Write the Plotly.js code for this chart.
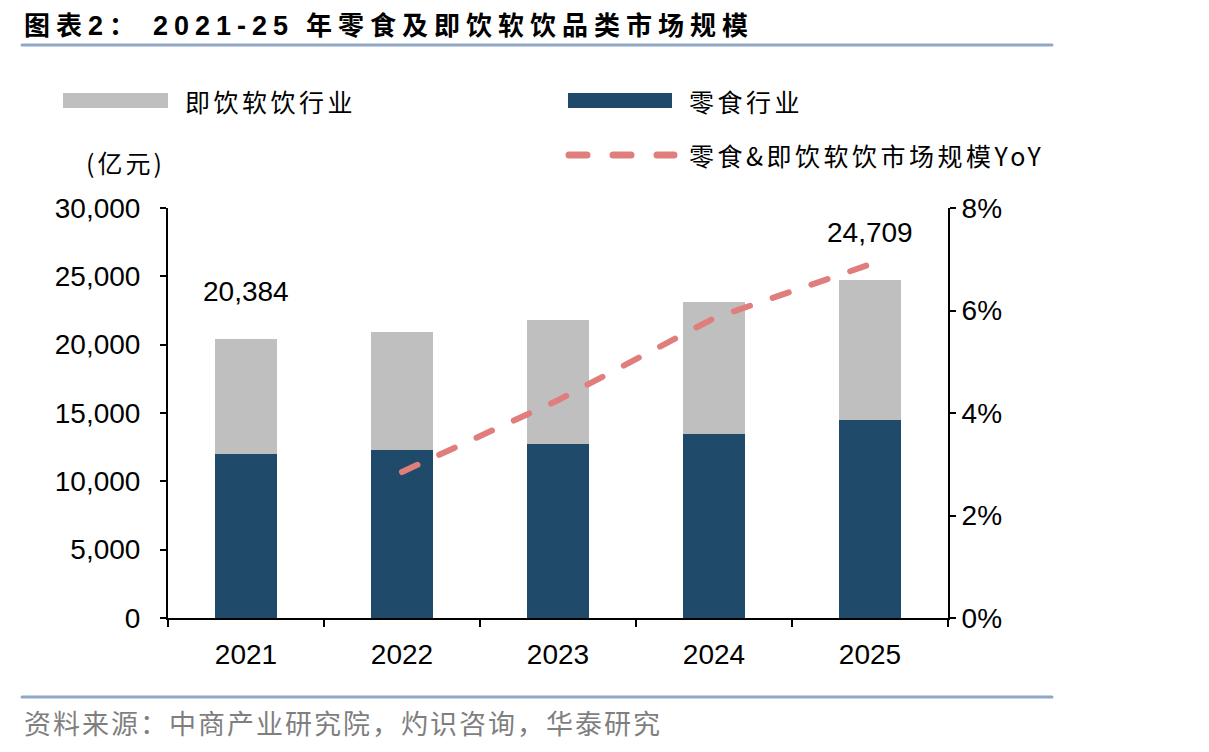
<!DOCTYPE html>
<html>
<head>
<meta charset="utf-8">
<script src="https://cdn.plot.ly/plotly-3.0.1.min.js"></script>
<style>
  html, body { margin: 0; padding: 0; background: #fff; }
  #chart { width: 1209px; height: 752px; }
  .scatterlayer .js-line { stroke-linecap: round; }
  .layer-above path { stroke-linecap: round; }
  /* tracking for the heading, legend labels, unit and source note */
  .annotation[data-index="0"] text { letter-spacing: 6px; }
  .annotation[data-index="1"] text,
  .annotation[data-index="2"] text,
  .annotation[data-index="3"] text { letter-spacing: 3.5px; }
  .annotation[data-index="4"] text { letter-spacing: 3px; }
  .annotation[data-index="5"] text { letter-spacing: 2px; }
</style>
</head>
<body>
<div id="chart"></div>
<script>
// Market size, 100 million CNY
const years = ['2021', '2022', '2023', '2024', '2025'];
const drinkValues = [8404, 8690, 9130, 9670, 10249];   // 即饮软饮行业
const snackValues = [11980, 12270, 12710, 13440, 14460]; // 零食行业
// Combined market YoY, %
const yoyYears = ['2022', '2023', '2024', '2025'];
const yoyValues = [2.85, 4.25, 5.85, 6.9];
// Years whose totals are labelled
const labelledYears = ['2021', '2025'];

const drinkName = '即饮软饮行业';
const snackName = '零食行业';
const yoyName = '零食&即饮软饮市场规模YoY';

const totals = years.map((y, i) => snackValues[i] + drinkValues[i]);

const W = 1209, H = 752;
const M = { l: 168, r: 261, t: 208, b: 134 };
const PW = W - M.l - M.r, PH = H - M.t - M.b;
const px = x => (x - M.l) / PW;
const py = y => (H - M.b - y) / PH;

const navy = '#1F4A6A';
const grey = '#BFBFBF';
const pink = '#E07E7E';
const rule = '#8FA8C6';
const numFont = 'Liberation Sans, Arial, sans-serif';
const cjkFont = 'Noto Sans CJK SC, sans-serif';

const traces = [
  { type: 'bar', name: snackName, x: years, y: snackValues, marker: { color: navy }, yaxis: 'y', showlegend: false, hoverinfo: 'skip' },
  { type: 'bar', name: drinkName, x: years, y: drinkValues, marker: { color: grey }, yaxis: 'y', showlegend: false, hoverinfo: 'skip' },
  { type: 'scatter', mode: 'lines', name: yoyName, x: yoyYears, y: yoyValues, yaxis: 'y2',
    line: { color: pink, width: 6, dash: '17px,24px' }, showlegend: false, hoverinfo: 'skip' }
];

const textNote = (x, y, text, size, color, bold) => ({
  xref: 'paper', yref: 'paper', x: px(x), y: py(y), xanchor: 'left', yanchor: 'middle', align: 'left',
  showarrow: false, text: bold ? '<b>' + text + '</b>' : text,
  font: { family: cjkFont, size: size, color: color }
});

const latin = s => '<span style="font-family:Liberation Sans, Arial, sans-serif;font-size:27px">' + s + '</span>';

const annotations = [
  textNote(22, 23, '图表' + latin('2') + '： ' + latin('2021-25') + ' 年零食及即饮软饮品类市场规模', 26, '#000', true),
  textNote(183, 101, drinkName, 25, '#000'),
  textNote(687, 101, snackName, 25, '#000'),
  textNote(687, 155, yoyName, 25, '#000'),
  textNote(84, 162, '(亿元)', 25, '#000'),
  textNote(22, 722, '资料来源：中商产业研究院，灼识咨询，华泰研究', 27, '#7F7F7F')
];

// Total labels above selected bars (category index on the x axis)
labelledYears.forEach(yr => {
  const i = years.indexOf(yr);
  annotations.push({
    xref: 'x', yref: 'y', x: i, y: totals[i], xanchor: 'center', yanchor: 'bottom', yshift: 30,
    showarrow: false, text: totals[i].toLocaleString('en-US'),
    font: { family: numFont, size: 28, color: '#000' }
  });
});

const shapes = [
  { type: 'line', xref: 'paper', yref: 'paper', x0: px(22), x1: px(1052), y0: py(45), y1: py(45), line: { color: rule, width: 3 } },
  { type: 'line', xref: 'paper', yref: 'paper', x0: px(22), x1: px(1052), y0: py(697), y1: py(697), line: { color: rule, width: 3 } },
  { type: 'rect', xref: 'paper', yref: 'paper', x0: px(63), x1: px(168), y0: py(108), y1: py(93), fillcolor: grey, line: { width: 0 } },
  { type: 'rect', xref: 'paper', yref: 'paper', x0: px(568), x1: px(672), y0: py(108), y1: py(93), fillcolor: navy, line: { width: 0 } },
  { type: 'line', xref: 'paper', yref: 'paper', x0: px(569), x1: px(674), y0: py(155), y1: py(155), line: { color: pink, width: 7, dash: '18px,26px' } }
];

const layout = {
  width: W, height: H,
  margin: M,
  paper_bgcolor: '#fff', plot_bgcolor: '#fff',
  barmode: 'stack', bargap: 0.6,
  showlegend: false,
  font: { family: numFont, size: 28, color: '#000' },
  xaxis: {
    type: 'category', range: [-0.5, years.length - 0.5], autorange: false,
    tickson: 'boundaries', ticks: 'outside', ticklen: 7, tickwidth: 2, tickcolor: '#000',
    showline: true, linecolor: '#000', linewidth: 2, showgrid: false, zeroline: false,
    tickangle: 0, ticklabelstandoff: 10, tickfont: { family: numFont, size: 28, color: '#000' }
  },
  yaxis: {
    range: [0, 30000], autorange: false, dtick: 5000, tickformat: ',d', ticks: 'outside', ticklen: 6, tickwidth: 2, tickcolor: '#000',
    showline: true, linecolor: '#000', linewidth: 2, showgrid: false, zeroline: false,
    ticklabelstandoff: 14, tickfont: { family: numFont, size: 28, color: '#000' }
  },
  yaxis2: {
    overlaying: 'y', side: 'right', range: [0, 8], autorange: false, dtick: 2, ticksuffix: '%', ticks: 'outside', ticklen: 6, tickwidth: 2, tickcolor: '#000',
    showline: true, linecolor: '#000', linewidth: 2, showgrid: false, zeroline: false,
    tickfont: { family: numFont, size: 28, color: '#000' }
  },
  annotations: annotations,
  shapes: shapes
};

Plotly.newPlot('chart', traces, layout, { staticPlot: true, displayModeBar: false });
</script>
</body>
</html>
